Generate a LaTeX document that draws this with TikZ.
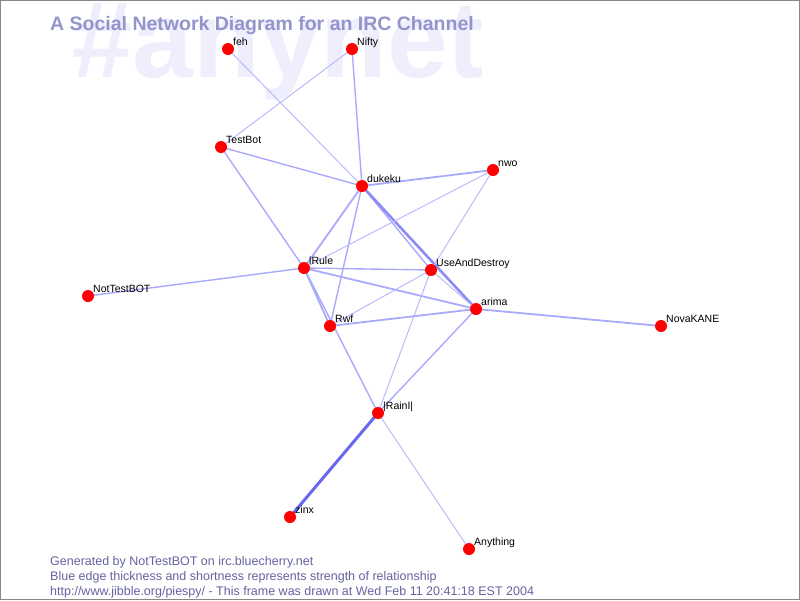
\documentclass[tikz,border=0pt]{standalone}
\usepackage{fontspec}
\setmainfont{Liberation Sans}
\definecolor{wmark}{HTML}{EEEEFC}
\definecolor{titlec}{HTML}{9494CC}
\definecolor{footc}{HTML}{6464A0}
\definecolor{edgec}{HTML}{BABAFF}
\definecolor{edgemid}{HTML}{AAAAFD}
\definecolor{edgedark}{HTML}{8C8CF4}
\definecolor{edgestrong}{HTML}{6868F0}
\definecolor{bordc}{HTML}{888888}
\begin{document}
\begin{tikzpicture}[x=1pt,y=-1pt,
  person/.style={circle,fill=red,inner sep=0pt,minimum size=12pt},
  nick/.style={anchor=base west,inner sep=0pt,font=\fontsize{10.5}{12}\selectfont,text=black},
  tie/.style={draw=edgec,line width=1pt},
  tiem/.style={draw=edgemid,line width=1.4pt},
  tieh/.style={draw=edgemid,line width=1.8pt},
  tiedark/.style={draw=edgedark,line width=2.6pt},
  tiestrong/.style={draw=edgestrong,line width=3pt},
  foot/.style={anchor=base west,inner sep=0pt,text=footc,font=\fontsize{12.5}{14}\selectfont}]
\fill[white] (0,0) rectangle (800,600);
\useasboundingbox (0,0) rectangle (800,600);
% watermark
\node[anchor=base west,inner sep=0pt,text=wmark,font=\bfseries\fontsize{109}{110}\selectfont] (wm) at (72,77) {\#anynet};
% title
\node[anchor=base west,inner sep=0pt,text=titlec,font=\bfseries\fontsize{19.5}{22}\selectfont] (title) at (50,30) {A Social Network Diagram for an IRC Channel};
% nodes
\coordinate (feh) at (228,49);
\coordinate (Nifty) at (352,49);
\coordinate (TestBot) at (221,147);
\coordinate (dukeku) at (362,186);
\coordinate (nwo) at (493,170);
\coordinate (IRule) at (304,268);
\coordinate (UAD) at (431,270);
\coordinate (arima) at (476,309);
\coordinate (NotTestBOT) at (88,296);
\coordinate (Rwf) at (330,326);
\coordinate (NovaKANE) at (661,326);
\coordinate (IRainI) at (378,413);
\coordinate (zinx) at (290,517);
\coordinate (Anything) at (469,549);
% edges
\draw[tie] (feh) -- (dukeku);
\draw[tie] (Nifty) -- (TestBot);
\draw[tiem] (Nifty) -- (dukeku);
\draw[tiem] (TestBot) -- (dukeku);
\draw[tiem] (TestBot) -- (IRule);
\draw[tieh] (dukeku) -- (nwo);
\draw[tieh] (dukeku) -- (IRule);
\draw[tiem] (dukeku) -- (Rwf);
\draw[tiem] (dukeku) -- (UAD);
\draw[tiedark] (dukeku) -- (arima);
\draw[tie] (nwo) -- (IRule);
\draw[tie] (nwo) -- (UAD);
\draw[tiem] (IRule) -- (NotTestBOT);
\draw[tiem] (IRule) -- (UAD);
\draw[tieh] (IRule) -- (arima);
\draw[tieh] (IRule) -- (Rwf);
\draw[tiem] (IRule) -- (IRainI);
\draw[tie] (UAD) -- (arima);
\draw[tie] (UAD) -- (Rwf);
\draw[tie] (UAD) -- (IRainI);
\draw[tieh] (arima) -- (NovaKANE);
\draw[tieh] (arima) -- (Rwf);
\draw[tiem] (arima) -- (IRainI);
\draw[tiestrong] (IRainI) -- (zinx);
\draw[tie] (IRainI) -- (Anything);
% dots and labels
\foreach \n/\t in {feh/feh,Nifty/Nifty,TestBot/TestBot,dukeku/dukeku,nwo/nwo,IRule/lRule,UAD/UseAndDestroy,arima/arima,NotTestBOT/NotTestBOT,Rwf/Rwf,NovaKANE/NovaKANE,IRainI/|RainI|,zinx/zinx,Anything/Anything}{
  \node[person] (\n-dot) at (\n) {};
  \node[nick] (\n-lab) at ([xshift=5pt,yshift=4pt]\n) {\t};
}
% footer
\node[foot] (f1) at (50,565) {Generated by NotTestBOT on irc.bluecherry.net};
\node[foot] (f2) at (50,580) {Blue edge thickness and shortness represents strength of relationship};
\node[foot] (f3) at (50,595) {http://www.jibble.org/piespy/ - This frame was drawn at Wed Feb 11 20:41:18 EST 2004};
% border
\draw[bordc,line width=1pt] (0.5,0.5) rectangle (799.5,599.5);
\end{tikzpicture}
\end{document}
